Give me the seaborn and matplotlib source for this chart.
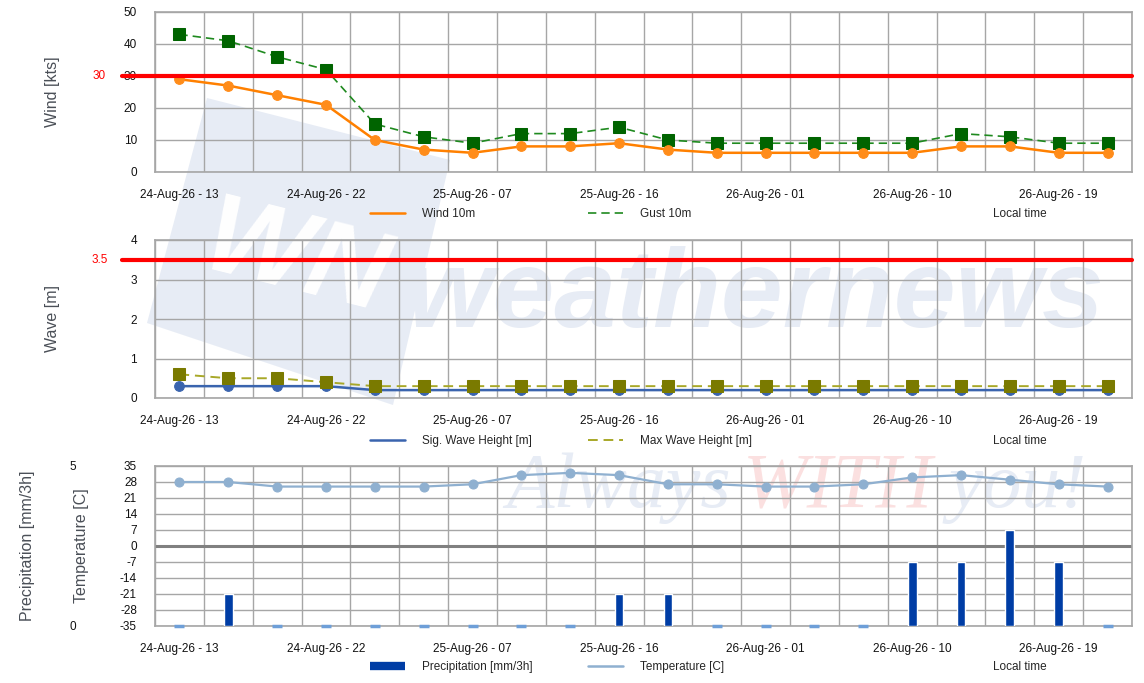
import numpy as np
import matplotlib.pyplot as plt
from matplotlib.lines import Line2D
from matplotlib.patches import Polygon
from matplotlib.transforms import blended_transform_factory
import seaborn as sns

# ---- data ----
times = ['24-Aug-26 - 13', '24-Aug-26 - 16', '24-Aug-26 - 19', '24-Aug-26 - 22',
         '25-Aug-26 - 01', '25-Aug-26 - 04', '25-Aug-26 - 07', '25-Aug-26 - 10',
         '25-Aug-26 - 13', '25-Aug-26 - 16', '25-Aug-26 - 19', '25-Aug-26 - 22',
         '26-Aug-26 - 01', '26-Aug-26 - 04', '26-Aug-26 - 07', '26-Aug-26 - 10',
         '26-Aug-26 - 13', '26-Aug-26 - 16', '26-Aug-26 - 19', '26-Aug-26 - 22']
wind_10m = [29, 27, 24, 21, 10, 7, 6, 8, 8, 9, 7, 6, 6, 6, 6, 6, 8, 8, 6, 6]
gust_10m = [43, 41, 36, 32, 15, 11, 9, 12, 12, 14, 10, 9, 9, 9, 9, 9, 12, 11, 9, 9]
sig_wave = [0.3, 0.3, 0.3, 0.3, 0.2, 0.2, 0.2, 0.2, 0.2, 0.2,
            0.2, 0.2, 0.2, 0.2, 0.2, 0.2, 0.2, 0.2, 0.2, 0.2]
max_wave = [0.6, 0.5, 0.5, 0.4, 0.3, 0.3, 0.3, 0.3, 0.3, 0.3,
            0.3, 0.3, 0.3, 0.3, 0.3, 0.3, 0.3, 0.3, 0.3, 0.3]
temperature = [28, 28, 26, 26, 26, 26, 27, 31, 32, 31, 27, 27, 26, 26, 27, 30, 31, 29, 27, 26]
precip = [0, 1, 0, 0, 0, 0, 0, 0, 0, 1, 1, 0, 0, 0, 0, 2, 2, 3, 2, 0]
wind_limit = 30
wave_limit = 3.5

pos = np.arange(len(times))
tick_every = 3

sns.set_style('white')
plt.rcParams['font.family'] = ['Liberation Sans', 'DejaVu Sans']

W, H = 1144, 683
fig = plt.figure(figsize=(W / 100, H / 100), dpi=100)

grid_c = '#a6a6a6'
label_c = '#4a4f57'
wm_blue = '#e7ecf5'
left, width = 155 / W, 977 / W


def px_axes(top, bottom):
    return fig.add_axes([left, 1 - bottom / H, width, (bottom - top) / H])


def style_axis(ax, ylim, yticks, ylabel, label_x=-0.097):
    ax.set_facecolor('none')
    ax.set_xlim(-0.5, len(times) - 0.5)
    ax.set_ylim(*ylim)
    ax.set_yticks(yticks)
    ax.set_yticklabels([f'{t:g}' for t in yticks])
    ax.set_xticks(pos[::tick_every])
    ax.set_xticklabels(times[::tick_every])
    ax.set_xticks(np.arange(-0.5, len(times), 1), minor=True)
    ax.grid(True, which='minor', axis='x', color=grid_c, lw=1)
    ax.grid(True, which='major', axis='y', color=grid_c, lw=1)
    ax.tick_params(which='both', length=0, labelsize=8.5, colors='#111111')
    ax.tick_params(axis='y', pad=13)
    ax.tick_params(axis='x', pad=12)
    ax.set_xlabel('')
    ax.set_ylabel(ylabel, fontsize=11.5, color=label_c,
                  family=['Liberation Sans Narrow', 'Liberation Sans'])
    ax.yaxis.set_label_coords(label_x, 0.5)
    for s in ax.spines.values():
        s.set_color(grid_c)
        s.set_linewidth(1.2)
        s.set_visible(True)


def limit_line(ax, value):
    ax.axhline(value, xmin=-0.034, xmax=1, color='#ff0000', lw=3, clip_on=False, zorder=3)
    tr = blended_transform_factory(ax.transAxes, ax.transData)
    ax.text(-0.057, value, f'{value:g}', transform=tr, color='#ff0000',
            fontsize=8.5, ha='center', va='center')


def legend_row(y_px, items):
    for x_px, handle, text in items:
        fig.legend([handle], [text], loc='center left',
                   bbox_to_anchor=(x_px / W, 1 - y_px / H), bbox_transform=fig.transFigure,
                   frameon=False, borderpad=0, borderaxespad=0, handlelength=3.0,
                   handletextpad=1.4, fontsize=8.5)
    fig.text(993 / W, 1 - y_px / H, 'Local time', fontsize=8.5, ha='left', va='center')


# ---- watermark (behind the axes) ----
logo = [(207, 98), (450, 160), (393, 405), (147, 323)]
fig.add_artist(Polygon([(x / 100, (H - y) / 100) for x, y in logo], closed=True,
                       facecolor=wm_blue, edgecolor='none',
                       transform=fig.dpi_scale_trans, zorder=-6))
fig.text(296 / W, 1 - 262 / H, 'WN', color='white', fontsize=80, fontweight='bold',
         style='italic', rotation=-14, ha='center', va='center', zorder=-5)
fig.text(755 / W, 1 - 298 / H, 'weathernews', color=wm_blue, fontsize=80,
         fontweight='bold', style='italic', ha='center', va='center', zorder=-5)
for x_px, word, col in [(506, 'Always', wm_blue), (743, 'WITH', '#fbe0e0'),
                        (948, 'you!', wm_blue)]:
    fig.text(x_px / W, 1 - 488 / H, word, color=col, fontsize=56, style='italic',
             family='Liberation Serif', ha='left', va='center', zorder=-5)

# ---- wind ----
ax1 = px_axes(12, 172)
sns.lineplot(x=pos, y=gust_10m, ax=ax1, color='#1f8a1f', linestyle=(0, (5, 3)), lw=1.2,
             marker='s', markersize=8, markerfacecolor='#006400', markeredgecolor='#006400')
sns.lineplot(x=pos, y=wind_10m, ax=ax1, color='#ff8000', lw=1.8,
             marker='o', markersize=7, markerfacecolor='#ff8c1a', markeredgecolor='#ff8c1a')
style_axis(ax1, (0, 50), np.arange(0, 51, 10), 'Wind [kts]')
limit_line(ax1, wind_limit)
legend_row(214, [(370, Line2D([], [], color='#ff8000', lw=1.8), 'Wind 10m'),
                 (588, Line2D([], [], color='#1f8a1f', lw=1.2, ls=(0, (5, 3))), 'Gust 10m')])

# ---- wave ----
ax2 = px_axes(240, 398)
sns.lineplot(x=pos, y=max_wave, ax=ax2, color='#a8a828', linestyle=(0, (5, 3)), lw=1.4,
             marker='s', markersize=8, markerfacecolor='#7a7a00', markeredgecolor='#7a7a00')
sns.lineplot(x=pos, y=sig_wave, ax=ax2, color='#3a64ae', lw=1.8, zorder=1,
             marker='o', markersize=7, markerfacecolor='#3a64ae', markeredgecolor='#3a64ae')
style_axis(ax2, (0, 4), np.arange(0, 5, 1), 'Wave [m]')
limit_line(ax2, wave_limit)
legend_row(441, [(370, Line2D([], [], color='#3a64ae', lw=1.8), 'Sig. Wave Height [m]'),
                 (588, Line2D([], [], color='#a8a828', lw=1.4, ls=(0, (5, 3))), 'Max Wave Height [m]')])

# ---- temperature / precipitation ----
ax3 = px_axes(466, 626)
sns.lineplot(x=pos, y=temperature, ax=ax3, color='#8fb0d0', lw=1.6,
             marker='o', markersize=6.5, markerfacecolor='#8fb0d0', markeredgecolor='#8fb0d0')
style_axis(ax3, (-35, 35), np.arange(-35, 36, 7), 'Temperature [C]', label_x=-0.068)
ax3.axhline(0, color='#808080', lw=2.2, zorder=1)

axp = ax3.twinx()
sns.barplot(x=pos, y=precip, ax=axp, color='#003da5', width=0.18, saturation=1,
            native_scale=True, zorder=3)
zero = [i for i, v in enumerate(precip) if v == 0]
axp.scatter(zero, [0] * len(zero), marker='_', s=60, color='#6e9fd8', lw=2.5,
            zorder=3, clip_on=False)
axp.set_xlim(-0.5, len(times) - 0.5)
axp.set_ylim(0, 5)
axp.set_yticks([0, 5])
axp.yaxis.set_ticks_position('left')
axp.yaxis.set_label_position('left')
axp.tick_params(axis='y', length=0, pad=57, labelsize=8.5, colors='#111111')
axp.set_ylabel('Precipitation [mm/3h]', fontsize=11.5, color=label_c,
               family=['Liberation Sans Narrow', 'Liberation Sans'])
axp.yaxis.set_label_coords(-0.123, 0.5)
axp.grid(False)
axp.xaxis.set_visible(False)
for s in axp.spines.values():
    s.set_visible(False)
legend_row(667, [(370, Line2D([], [], color='#003da5', lw=6, solid_capstyle='butt'),
                  'Precipitation [mm/3h]'),
                 (588, Line2D([], [], color='#8fb0d0', lw=1.8), 'Temperature [C]')])

fig.savefig('out.png', dpi=100)
